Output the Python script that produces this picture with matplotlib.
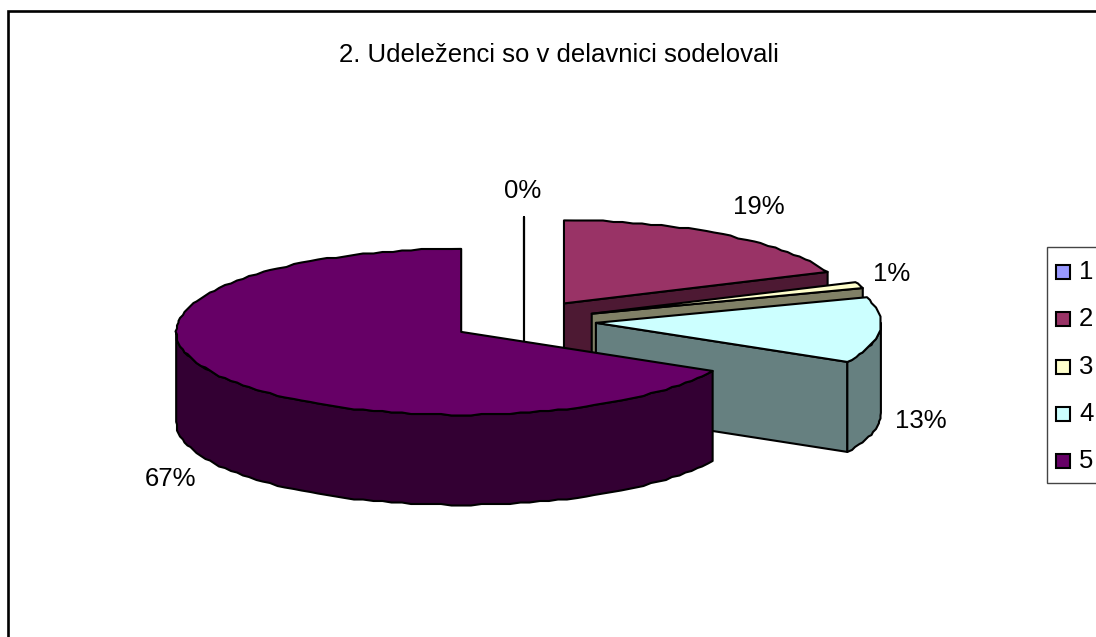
import numpy as np
import matplotlib
matplotlib.use("Agg")
import matplotlib.pyplot as plt
from matplotlib.patches import Polygon, Rectangle

# Data
title = "2. Udeleženci so v delavnici sodelovali"
categories = ["1", "2", "3", "4", "5"]
values = [0, 18.8, 1.2, 12.8, 67.2]
labels = ["0%", "19%", "1%", "13%", "67%"]

# Styles
top_colors = ["#9999FF", "#993366", "#FFFFCC", "#CCFFFF", "#660066"]
side_colors = ["#4D4D80", "#4D1933", "#808066", "#668080", "#330033"]
label_pos = [(523, 191), (759, 207), (892, 274), (921, 421), (170, 479)]

W, H = 1096, 637
CX, CY = 523.5, 321.0      # pie centre in pixels
RX, RY = 285.0, 83.0       # ellipse radii
DEPTH = 90.0
EXPLODE = 0.255
LW = 1.5
GRID = 1.5                 # the rim outline is stepped, as in a low-resolution renderer
FONT = "Liberation Sans"
FS = 18.5

fig = plt.figure(figsize=(W / 100, H / 100), dpi=100, facecolor="white")
ax = fig.add_axes([0, 0, 1, 1])
ax.set_xlim(0, W)
ax.set_ylim(H, 0)
ax.axis("off")

ax.add_patch(Rectangle((7.5, 10.5), W + 50, H + 50, fc="white", ec="black", lw=1.9, zorder=0))


def rim(ax0, ay0, t0, t1):
    n = max(2, int(abs(t1 - t0) / 2) + 2)
    t = np.radians(np.linspace(t0, t1, n))
    x = ax0 + RX * np.sin(t)
    y = ay0 - RY * np.cos(t)
    # keep the corners exact, step the points in between
    x[1:-1] = np.round(x[1:-1] / GRID) * GRID
    y[1:-1] = np.round(y[1:-1] / GRID) * GRID
    return np.column_stack((x, y))


def poly(pts, color, z):
    ax.add_patch(Polygon(pts, closed=True, fc=color, ec="black", lw=LW, joinstyle="round", zorder=z))


total = sum(values)
start = 0.0
for i, v in enumerate(values):
    sweep = 360.0 * v / total
    end = start + sweep
    mid = np.radians(start + sweep / 2)
    x0 = CX + EXPLODE * RX * np.sin(mid)
    y0 = CY - EXPLODE * RY * np.cos(mid)
    apex = np.array([[x0, y0]])
    down = np.array([0, DEPTH])
    z = 2 + i
    # radial walls
    if 0 <= end < 180:
        e = rim(x0, y0, end, end)[:1]
        poly(np.vstack((apex, e, e + down, apex + down)), side_colors[i], z)
    if 180 < start < 360:
        s = rim(x0, y0, start, start)[:1]
        poly(np.vstack((apex, s, s + down, apex + down)), side_colors[i], z)
    # outer wall: the part of the rim that faces the viewer
    a, b = max(start, 90), min(end, 270)
    if b > a:
        r = rim(x0, y0, a, b)
        poly(np.vstack((r, (r + down)[::-1])), side_colors[i], z)
    # top
    poly(np.vstack((apex, rim(x0, y0, start, end))), top_colors[i], z + 0.5)
    start = end

for (x, y), s in zip(label_pos, labels):
    ax.text(x, y, s, ha="center", va="center", family=FONT, fontsize=FS, color="black", zorder=20)

ax.text(559, 55, title, ha="center", va="center", family=FONT, fontsize=FS, color="black", zorder=20)

# Legend
ax.add_patch(Rectangle((1046.5, 246.5), 100, 236, fc="white", ec="#444444", lw=1.0, zorder=20))
for i, c in enumerate(categories):
    y = 272 + i * 47.25
    ax.add_patch(Rectangle((1056, y - 7), 14, 14, fc=top_colors[i], ec="black", lw=1.5, zorder=21))
    ax.text(1079, y, c, ha="left", va="center", family=FONT, fontsize=FS, color="black", zorder=21)

fig.savefig("out.png", dpi=100, facecolor="white")
